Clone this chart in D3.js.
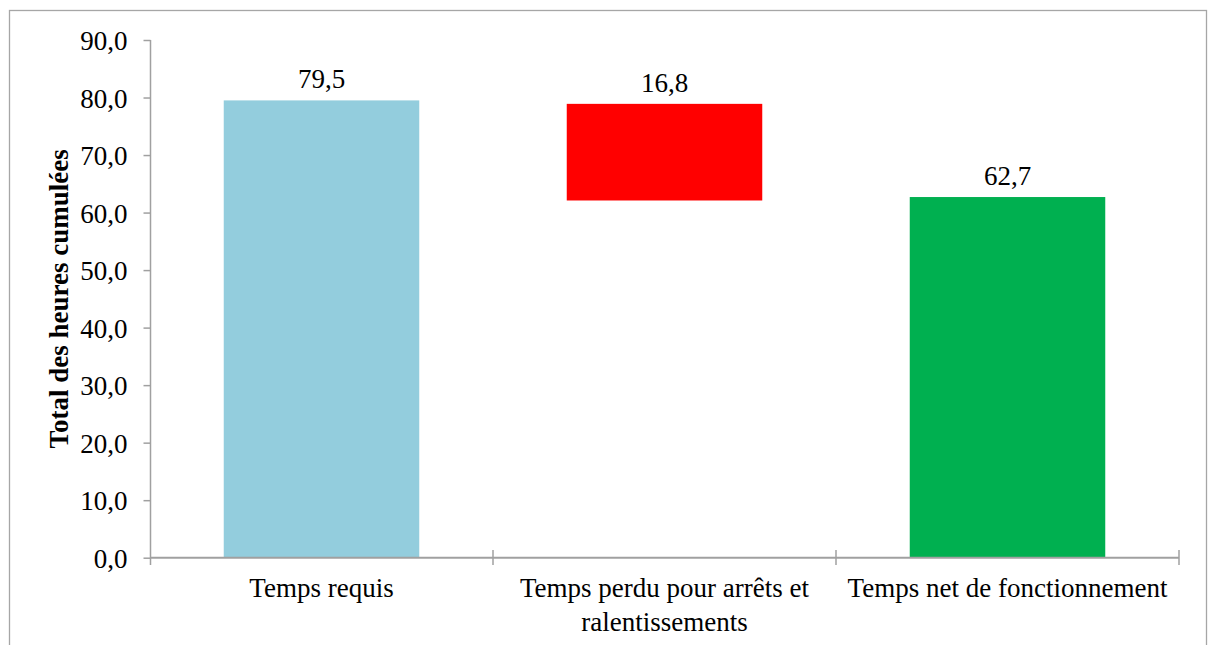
<!DOCTYPE html>
<html>
<head>
<meta charset="utf-8">
<script src="https://cdn.jsdelivr.net/npm/d3@7"></script>
<style>
  html, body { margin: 0; padding: 0; background: #fff; }
  svg { display: block; }
  text { font-family: "Liberation Serif", "Times New Roman", serif; fill: #000; }
</style>
</head>
<body>
<svg id="chart" width="1208" height="645"></svg>
<script>
// Waterfall: time required, time lost, net operating time
const categories = ["Temps requis", "Temps perdu pour arrêts et ralentissements", "Temps net de fonctionnement"];
const values = [79.5, 16.8, 62.7];          // visible bar heights (hours)
const bases = [0, 62.1, 0];                 // invisible offset under each bar
const colors = ["#93CDDD", "#FF0000", "#00B050"];
const yTicks = [0, 10, 20, 30, 40, 50, 60, 70, 80, 90];
const yTitle = "Total des heures cumulées";

const fmt = v => d3.format(".1f")(v).replace(".", ",");
const fontSize = 27;

const svg = d3.select("#chart");
const axisColor = "#A0A0A0";

// outer frame
svg.append("rect")
  .attr("x", 9.5).attr("y", 10.5)
  .attr("width", 1197).attr("height", 700)
  .attr("fill", "none").attr("stroke", "#A6A6A6").attr("stroke-width", 1.3);

const x = d3.scaleBand()
  .domain(categories)
  .range([150, 1179])
  .paddingInner(0.43)
  .paddingOuter(0.215);

const y = d3.scaleLinear().domain([0, 90]).range([557.7, 40]);

// bars
svg.append("g").selectAll("rect")
  .data(categories)
  .join("rect")
  .attr("x", d => x(d))
  .attr("width", x.bandwidth())
  .attr("y", (d, i) => y(bases[i] + values[i]))
  .attr("height", (d, i) => y(bases[i]) - y(bases[i] + values[i]))
  .attr("fill", (d, i) => colors[i]);

// value labels
svg.append("g").selectAll("text")
  .data(categories)
  .join("text")
  .attr("x", d => x(d) + x.bandwidth() / 2)
  .attr("y", (d, i) => y(bases[i] + values[i]) - 12)
  .attr("text-anchor", "middle")
  .attr("font-size", fontSize)
  .text((d, i) => fmt(values[i]));

// y axis
const yAxis = d3.axisLeft(y)
  .tickValues(yTicks)
  .tickSize(7)
  .tickPadding(16)
  .tickFormat(fmt);
const gy = svg.append("g").attr("transform", "translate(150.5,0)").call(yAxis);
gy.select(".domain").remove();
gy.append("line").attr("x1", 0).attr("x2", 0).attr("y1", y(90)).attr("y2", 565)
  .attr("stroke", axisColor).attr("stroke-width", 1.5);
gy.selectAll(".tick line").attr("stroke", axisColor).attr("stroke-width", 1.5);
gy.selectAll(".tick text")
  .attr("font-size", fontSize)
  .attr("font-family", "Liberation Serif, serif")
  .attr("fill", "#000")
  .attr("dy", "0.36em");

// x axis line and category boundary ticks
const step = x.step();
const x0 = x.range()[0];
const bounds = d3.range(categories.length + 1).map(i => x0 + i * step);
const gx = svg.append("g");
gx.append("line")
  .attr("x1", x0).attr("x2", x.range()[1])
  .attr("y1", y(0)).attr("y2", y(0))
  .attr("stroke", axisColor).attr("stroke-width", 2);
gx.selectAll("line.tk")
  .data(bounds.slice(1))
  .join("line")
  .attr("class", "tk")
  .attr("x1", d => d).attr("x2", d => d)
  .attr("y1", 550).attr("y2", 565)
  .attr("stroke", axisColor).attr("stroke-width", 1.5);

// category labels, wrapped to fit each slot
function wrapLines(str, maxW, size) {
  const probe = svg.append("text").attr("font-size", size);
  const words = str.split(" ");
  const lines = [];
  let cur = "";
  for (const w of words) {
    const test = cur ? cur + " " + w : w;
    probe.text(test);
    if (probe.node().getComputedTextLength() > maxW && cur) {
      lines.push(cur);
      cur = w;
    } else cur = test;
  }
  if (cur) lines.push(cur);
  probe.remove();
  return lines;
}
categories.forEach(c => {
  const lines = wrapLines(c, 330, fontSize);
  const t = svg.append("text")
    .attr("text-anchor", "middle")
    .attr("font-size", fontSize)
    .attr("x", x(c) + x.bandwidth() / 2)
    .attr("y", 597);
  lines.forEach((ln, k) => {
    t.append("tspan")
      .attr("x", x(c) + x.bandwidth() / 2)
      .attr("dy", k === 0 ? 0 : 34)
      .text(ln);
  });
});

// y axis title
svg.append("text")
  .attr("transform", `translate(68,${(y(0) + y(90)) / 2}) rotate(-90)`)
  .attr("text-anchor", "middle")
  .attr("font-size", fontSize)
  .attr("font-weight", "bold")
  .text(yTitle);
</script>
</body>
</html>
